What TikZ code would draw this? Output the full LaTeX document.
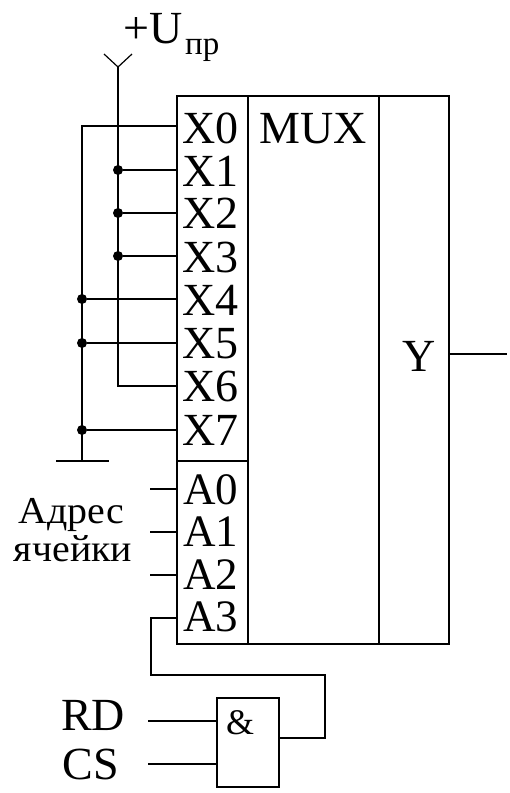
\documentclass[tikz,border=0pt]{standalone}
\usepackage{graphicx}
\usepackage{fontspec}
\setmainfont{Liberation Serif}
\tikzset{
  wire/.style={line width=1.9pt,black},
  box/.style={draw,line width=1.9pt,inner sep=0pt,outer sep=0pt,anchor=north west},
  pin/.style={font=\fontsize{46}{46}\selectfont,inner sep=0pt,anchor=base west},
  apin/.style={font=\fontsize{45}{45}\selectfont,inner sep=0pt,anchor=base west},
  big/.style={font=\fontsize{46}{46}\selectfont,inner sep=0pt,anchor=base},
  small/.style={font=\fontsize{38}{40}\selectfont,inner sep=0pt,align=center},
  joint/.style={circle,fill=black,inner sep=0pt,minimum size=10pt},
}
\begin{document}
\begin{tikzpicture}[x=1pt,y=-1pt]
\useasboundingbox (0,0) rectangle (510,793);
% blocks
\node[box,minimum width=71pt,minimum height=365pt] (xcol) at (177,96) {};
\node[box,minimum width=71pt,minimum height=183pt] (acol) at (177,461) {};
\node[box,minimum width=131pt,minimum height=548pt] (mcol) at (248,96) {};
\node[box,minimum width=70pt,minimum height=548pt] (ycol) at (379,96) {};
\node[box,minimum width=62pt,minimum height=89pt] (gate) at (217,698) {};
% labels
\node[pin] (tx0) at (182,143) {X0};
\node[pin] (tx1) at (182,186) {X1};
\node[pin] (tx2) at (182,228) {X2};
\node[pin] (tx3) at (182,272) {X3};
\node[pin] (tx4) at (182,315) {X4};
\node[pin] (tx5) at (182,358) {X5};
\node[pin] (tx6) at (182,401) {X6};
\node[pin] (tx7) at (182,445) {X7};
\node[apin] (ta0) at (183,504) {A0};
\node[apin] (ta1) at (183,546) {A1};
\node[apin] (ta2) at (183,589) {A2};
\node[apin] (ta3) at (183,631) {A3};
\node[pin] (tmux) at (259,143) {MUX};
\node[pin] (ty) at (402,371) {Y};
\node[big] (trd) at (93,730) {RD};
\node[big] (tcs) at (91,779) {CS};
\node[font=\fontsize{36}{36}\selectfont,inner sep=0pt,anchor=base] (tamp) at (240,734) {\&};
\node[small,anchor=base] (taddr1) at (71,523) {\scalebox{1.05}[1]{Адрес}};
\node[small,anchor=base] (taddr2) at (73,561) {\scalebox{1.05}[1]{ячейки}};
\node[font=\fontsize{46}{46}\selectfont,inner sep=0pt,anchor=base west] (tvcc) at (123,43) {+U};
\node[font=\fontsize{33}{33}\selectfont,inner sep=0pt,anchor=base west] (tvccs) at (185,54) {пр};
% free ends
\coordinate (pX0) at (177,126);
\coordinate (pX1) at (177,170);
\coordinate (pX2) at (177,213);
\coordinate (pX3) at (177,256);
\coordinate (pX4) at (177,299);
\coordinate (pX5) at (177,343);
\coordinate (pX6) at (177,386);
\coordinate (pX7) at (177,430);
\coordinate (rail) at (82,126);
\coordinate (gnd) at (82,461);
\coordinate (gndl) at (56,461);
\coordinate (gndr) at (109,461);
\coordinate (vcc) at (118,67);
\coordinate (vcct) at (118,386);
\coordinate (forkl) at (104,54);
\coordinate (forkr) at (132,54);
\node[joint] (j1) at (118,170) {};
\node[joint] (j2) at (118,213) {};
\node[joint] (j3) at (118,256) {};
\node[joint] (j4) at (82,299) {};
\node[joint] (j5) at (82,343) {};
\node[joint] (j7) at (82,430) {};
% wires
\draw[wire] (pX0) -- (rail) -- (gnd);
\draw[wire] (gndl) -- (gndr);
\draw[wire] (vcc) -- (vcct) -- (pX6);
\draw[line width=1.2pt] (forkl) -- (vcc) -- (forkr);
\draw[wire] (j1) -- (pX1);
\draw[wire] (j2) -- (pX2);
\draw[wire] (j3) -- (pX3);
\draw[wire] (j4) -- (pX4);
\draw[wire] (j5) -- (pX5);
\draw[wire] (j7) -- (pX7);
\coordinate (a0) at (150,489); \coordinate (pA0) at (177,489);
\coordinate (a1) at (150,532); \coordinate (pA1) at (177,532);
\coordinate (a2) at (150,575); \coordinate (pA2) at (177,575);
\coordinate (pA3) at (177,618);
\draw[wire] (a0) -- (pA0);
\draw[wire] (a1) -- (pA1);
\draw[wire] (a2) -- (pA2);
\coordinate (gout) at (279,738);
\draw[wire] (gout) -- (325,738) -- (325,675) -- (151,675) -- (151,618) -- (pA3);
\coordinate (rd) at (148,721); \coordinate (grd) at (217,721);
\coordinate (cs) at (148,764); \coordinate (gcs) at (217,764);
\draw[wire] (rd) -- (grd);
\draw[wire] (cs) -- (gcs);
\coordinate (yin) at (449,354); \coordinate (yout) at (507,354);
\draw[wire] (yin) -- (yout);
\end{tikzpicture}
\end{document}
